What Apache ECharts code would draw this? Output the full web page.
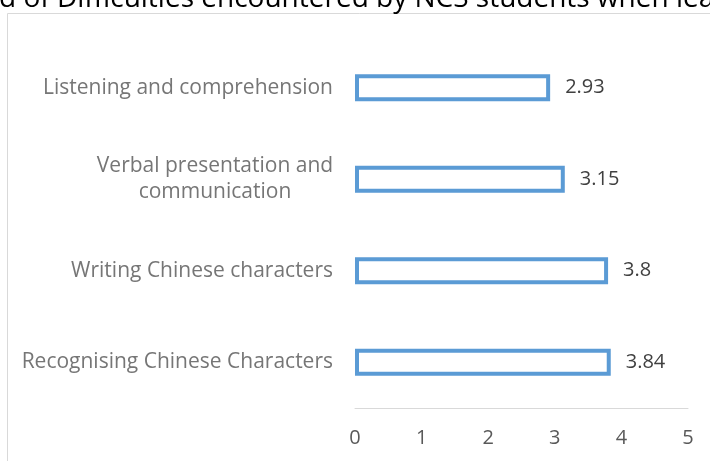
<!DOCTYPE html>
<html lang="en">
<head>
    <meta charset="UTF-8">
    <title>Difficulties encountered by NCS students</title>
    <script src="https://cdn.jsdelivr.net/npm/echarts@6/dist/echarts.min.js"></script>
    <style>
        html, body { margin: 0; padding: 0; background: #fff; }
        #chart { width: 710px; height: 461px; }
    </style>
</head>
<body>
<div id="chart"></div>
<script>
    // data
    const categories = [
        'Listening and comprehension',
        'Verbal presentation and\ncommunication',
        'Writing Chinese characters',
        'Recognising Chinese Characters'
    ];
    const values = [2.93, 3.15, 3.8, 3.84];
    const titleText = 'd of Difficulties encountered by NCS students when lea';

    const FONT = 'Open Sans';
    const chart = echarts.init(document.getElementById('chart'));

    const option = {
        animation: false,
        textStyle: { fontFamily: FONT },
        graphic: [
            // chart frame (clipped by the page)
            {
                type: 'rect', shape: { x: 7.5, y: 13.5, width: 800, height: 500 },
                style: { fill: 'none', stroke: '#d9d9d9', lineWidth: 1 }
            },
            // title, its top is cut off by the page edge
            {
                type: 'text', x: -1, y: 13,
                style: {
                    text: titleText, fill: '#000', font: '28px "' + FONT + '"',
                    textVerticalAlign: 'bottom'
                }
            }
        ],
        grid: { left: 355, right: 22, top: 42, bottom: 53 },
        xAxis: {
            type: 'value', min: 0, max: 5, interval: 1,
            axisLine: { show: true, lineStyle: { color: '#d9d9d9', width: 1 } },
            axisTick: { show: false },
            splitLine: { show: false },
            axisLabel: { color: '#595959', fontSize: 20, margin: 20, fontFamily: FONT }
        },
        yAxis: {
            type: 'category', data: categories, inverse: true,
            axisLine: { show: false },
            axisTick: { show: false },
            axisLabel: {
                color: '#767676', fontSize: 21, margin: 22, fontFamily: FONT,
                lineHeight: 26,
                formatter: function (v) {
                    if (v.indexOf('\n') < 0) return v;
                    return v.split('\n').map(s => '{c|' + s + '}').join('\n');
                },
                rich: {
                    c: { width: 236, align: 'center', color: '#767676', fontSize: 21, lineHeight: 26, fontFamily: FONT }
                }
            }
        },
        series: [{
            type: 'bar',
            data: values,
            barWidth: 27,
            itemStyle: { color: '#ffffff', borderColor: '#5b9bd5', borderWidth: 4 },
            label: {
                show: true, position: 'right', distance: 15,
                color: '#404040', fontSize: 20, fontFamily: FONT
            }
        }]
    };

    chart.setOption(option);
</script>
</body>
</html>
